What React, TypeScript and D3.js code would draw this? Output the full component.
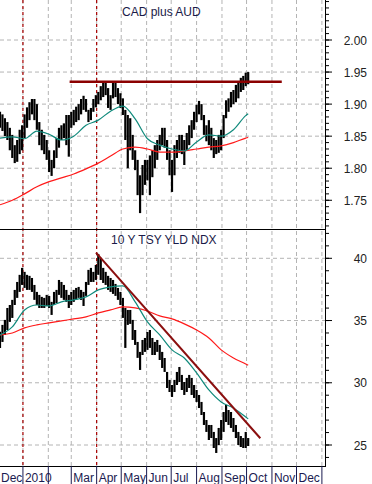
import React from 'react';
import * as d3 from 'd3';

// bars every 3 calendar days, Dec 4 2009 .. Oct 3 2010
const barDates = d3.timeDay.range(new Date(2009, 11, 4), new Date(2010, 9, 4), 3);

const cadHigh = [
  1.888, 1.884, 1.878, 1.872, 1.863, 1.852, 1.836, 1.844, 1.86, 1.867,
  1.884, 1.895, 1.903, 1.908, 1.908, 1.9, 1.872, 1.86, 1.852, 1.844,
  1.828, 1.813, 1.828, 1.847, 1.863, 1.867, 1.87, 1.883, 1.883, 1.888,
  1.891, 1.896, 1.9, 1.908, 1.913, 1.908, 1.891, 1.894, 1.908, 1.914,
  1.919, 1.928, 1.934, 1.934, 1.925, 1.914, 1.934, 1.934, 1.925, 1.917,
  1.909, 1.891, 1.883, 1.878, 1.852, 1.828, 1.813, 1.789, 1.805, 1.813,
  1.813, 1.82, 1.828, 1.836, 1.844, 1.852, 1.863, 1.863, 1.844, 1.828,
  1.813, 1.836, 1.844, 1.852, 1.852, 1.844, 1.855, 1.867, 1.875, 1.888,
  1.899, 1.905, 1.9, 1.883, 1.867, 1.875, 1.863, 1.847, 1.844, 1.852,
  1.86, 1.883, 1.906, 1.909, 1.919, 1.922, 1.93, 1.934, 1.941, 1.944,
  1.949, 1.95,
];
const cadLow = [
  1.863, 1.858, 1.85, 1.844, 1.828, 1.816, 1.808, 1.81, 1.822, 1.828,
  1.847, 1.863, 1.875, 1.884, 1.875, 1.86, 1.836, 1.828, 1.822, 1.813,
  1.794, 1.788, 1.8, 1.816, 1.832, 1.844, 1.847, 1.836, 1.818, 1.863,
  1.867, 1.872, 1.875, 1.884, 1.891, 1.888, 1.872, 1.875, 1.888, 1.895,
  1.9, 1.906, 1.911, 1.914, 1.894, 1.891, 1.909, 1.911, 1.9, 1.894,
  1.883, 1.844, 1.8, 1.828, 1.813, 1.797, 1.758, 1.73, 1.758, 1.774,
  1.781, 1.758, 1.786, 1.8, 1.813, 1.828, 1.836, 1.832, 1.813, 1.789,
  1.763, 1.789, 1.816, 1.824, 1.822, 1.805, 1.828, 1.836, 1.847, 1.86,
  1.872, 1.884, 1.875, 1.852, 1.842, 1.836, 1.828, 1.816, 1.822, 1.824,
  1.828, 1.847, 1.878, 1.888, 1.895, 1.9, 1.903, 1.909, 1.919, 1.922,
  1.928, 1.931,
];

const tsyHigh = [
  34.1, 34.65, 35.05, 36.01, 36.25, 36.66, 37.46, 38.1, 38.67, 39.23,
  38.91, 38.67, 38.59, 38.42, 37.86, 37.3, 37.06, 36.9, 36.82, 37.06,
  36.98, 36.5, 37.3, 37.46, 38.26, 38.1, 37.86, 37.46, 37.06, 37.3,
  37.46, 37.62, 37.7, 37.46, 37.3, 38.1, 39.07, 39.23, 38.91, 39.47,
  40.35, 40.03, 39.23, 38.91, 38.59, 38.42, 38.26, 37.94, 37.62, 37.3,
  36.82, 36.01, 35.85, 35.85, 35.05, 34.24, 33.28, 32.48, 33.44, 33.6,
  34.08, 34.24, 33.6, 33.28, 33.44, 33.04, 32.48, 31.99, 30.87, 30.23,
  29.82, 30.23, 30.87, 31.27, 30.63, 30.06, 30.39, 30.63, 30.39, 29.82,
  29.42, 29.02, 28.46, 27.65, 27.01, 26.61, 26.61, 26.05, 25.56, 26.37,
  27.01, 27.65, 28.22, 27.81, 27.65, 27.17, 26.61, 26.05, 25.72, 25.56,
  26.05, 25.56,
];
const tsyLow = [
  32.8, 33.28, 33.84, 34.24, 34.89, 35.21, 36.25, 36.82, 37.3, 37.86,
  37.62, 37.46, 37.46, 37.3, 36.66, 36.25, 36.01, 36.01, 36.01, 36.17,
  36.01, 35.45, 36.25, 36.41, 37.06, 36.82, 36.66, 36.5, 36.01, 36.25,
  36.5, 36.66, 36.82, 36.66, 36.17, 36.98, 37.86, 38.1, 38.1, 38.26,
  38.67, 38.26, 38.02, 37.86, 37.46, 37.3, 37.14, 36.98, 36.66, 36.25,
  35.21, 32.8, 34.65, 34.73, 33.44, 33.04, 32.0, 31.03, 32.23, 32.48,
  32.64, 32.8, 32.23, 32.23, 32.48, 31.83, 31.19, 30.87, 29.58, 29.26,
  28.86, 29.26, 29.82, 30.06, 29.42, 29.02, 29.26, 29.58, 29.02, 28.78,
  28.46, 27.97, 27.41, 26.61, 26.05, 25.4, 25.56, 24.76, 24.36, 25.0,
  25.4, 26.05, 26.85, 26.61, 26.37, 26.05, 25.56, 25.0, 24.84, 24.76,
  24.76, 24.92,
];

// moving averages, read at every 5th bar plus the last one
const maDates = barDates.filter((d, i) => i % 5 === 0 || i === barDates.length - 1);
const cadFast = [1.847, 1.849, 1.846, 1.858, 1.853, 1.844, 1.85, 1.867, 1.875, 1.889, 1.897,
  1.877, 1.846, 1.836, 1.83, 1.827, 1.841, 1.852, 1.85, 1.86, 1.882, 1.885];
const cadSlow = [1.743, 1.75, 1.76, 1.771, 1.779, 1.785, 1.791, 1.799, 1.808, 1.819, 1.83,
  1.833, 1.83, 1.825, 1.825, 1.827, 1.83, 1.833, 1.835, 1.84, 1.847, 1.848];
const tsyFast = [33.84, 34.49, 35.85, 36.25, 36.17, 36.5, 36.66, 36.9, 37.46, 37.7, 37.78,
  36.5, 34.89, 33.84, 32.64, 31.99, 30.79, 29.42, 28.46, 27.97, 27.25, 27.1];
const tsySlow = [33.84, 34.0, 34.41, 34.65, 34.81, 34.97, 35.13, 35.29, 35.61, 35.85, 36.09,
  36.01, 35.77, 35.37, 35.13, 34.73, 34.24, 33.6, 32.64, 31.99, 31.51, 31.4];

// drawn lines
const resistDates = [new Date(2010, 1, 27), new Date(2010, 10, 13)];
const resistValue = 1.935;
const trendDates = [new Date(2010, 3, 1), new Date(2010, 9, 17)];
const trendValues = [40.4, 25.6];
const markerDates = [new Date(2010, 0, 1), new Date(2010, 3, 1)];

const monthDates = d3.timeMonth.range(new Date(2009, 11, 1), new Date(2011, 0, 2));
const monthLabels = ['Dec', '2010', '', 'Mar', 'Apr', 'May', 'Jun', 'Jul', 'Aug', 'Sep', 'Oct', 'Nov', 'Dec'];

const cadTicks = [1.75, 1.8, 1.85, 1.9, 1.95, 2.0];
const tsyTicks = [25, 30, 35, 40];

const FONT = 'Arial, "Liberation Sans", sans-serif';

export default function App() {
  const width = 372;
  const height = 484;
  const plotRight = 326;
  const top = { y0: 0, y1: 229 };
  const bot = { y0: 229, y1: 466 };

  const x = d3
    .scaleTime()
    .domain([new Date(2009, 11, 4), new Date(2011, 0, 6)])
    .range([0, plotRight]);
  const yTop = d3.scaleLinear().domain([1.7052, 2.0624]).range([top.y1, top.y0]);
  const yBot = d3.scaleLinear().domain([23.313, 42.354]).range([bot.y1, bot.y0]);

  const cadMinor = d3.range(171, 207).map(v => v / 100);
  const tsyMinor = d3.range(24, 43);

  const maLine = (y: d3.ScaleLinear<number, number>, vals: number[]) =>
    d3
      .line<number>()
      .x((v, i) => x(maDates[i]))
      .y(v => y(v))
      .curve(d3.curveMonotoneX)(vals) || '';

  const bars = (y: d3.ScaleLinear<number, number>, hi: number[], lo: number[]) =>
    barDates.map((d, i) => (
      <line
        key={i}
        x1={x(d)}
        x2={x(d)}
        y1={y(hi[i])}
        y2={y(lo[i])}
        stroke="#000"
        strokeWidth={2.2}
      />
    ));

  const grid = '#b4b4b4';

  return (
    <div style={{ position: 'absolute', left: 0, top: 0 }}>
      <svg width={width} height={height} viewBox={`0 0 ${width} ${height}`} style={{ display: 'block', background: '#fff' }}>
        <defs>
          <clipPath id="clipTop">
            <rect x={0} y={top.y0} width={plotRight} height={top.y1 - top.y0} />
          </clipPath>
          <clipPath id="clipBot">
            <rect x={0} y={bot.y0} width={plotRight} height={bot.y1 - bot.y0} />
          </clipPath>
        </defs>

        {/* grid */}
        {monthDates.slice(1).map((d, i) => (
          <line key={'vg' + i} x1={x(d)} x2={x(d)} y1={0} y2={bot.y1} stroke={grid} strokeDasharray="4,3" />
        ))}
        {cadTicks.map(v => (
          <line key={'hg' + v} x1={0} x2={plotRight} y1={yTop(v)} y2={yTop(v)} stroke={grid} strokeDasharray="4,3" />
        ))}
        {tsyTicks.map(v => (
          <line key={'bg' + v} x1={0} x2={plotRight} y1={yBot(v)} y2={yBot(v)} stroke={grid} strokeDasharray="4,3" />
        ))}
        {markerDates.map((d, i) => (
          <line key={'mk' + i} x1={x(d)} x2={x(d)} y1={0} y2={bot.y1} stroke="#a80000" strokeWidth={1.2} strokeDasharray="3,3" />
        ))}

        {/* titles */}
        <text x={122} y={16} fontFamily={FONT} fontSize={12} fill="#1a1a48">CAD plus AUD</text>
        <text x={111} y={244} fontFamily={FONT} fontSize={12} fill="#1a1a48">10 Y TSY YLD NDX</text>

        {/* top panel */}
        <g clipPath="url(#clipTop)">
          {bars(yTop, cadHigh, cadLow)}
          <path d={maLine(yTop, cadSlow)} fill="none" stroke="#ff1a1a" strokeWidth={1.2} />
          <path d={maLine(yTop, cadFast)} fill="none" stroke="#108a7c" strokeWidth={1.2} />
          <line
            x1={x(resistDates[0])}
            x2={x(resistDates[1])}
            y1={yTop(resistValue)}
            y2={yTop(resistValue)}
            stroke="#8b0000"
            strokeWidth={2.4}
          />
        </g>

        {/* bottom panel */}
        <g clipPath="url(#clipBot)">
          {bars(yBot, tsyHigh, tsyLow)}
          <path d={maLine(yBot, tsySlow)} fill="none" stroke="#ff1a1a" strokeWidth={1.2} />
          <path d={maLine(yBot, tsyFast)} fill="none" stroke="#108a7c" strokeWidth={1.2} />
          <line
            x1={x(trendDates[0])}
            x2={x(trendDates[1])}
            y1={yBot(trendValues[0])}
            y2={yBot(trendValues[1])}
            stroke="#8b0f0f"
            strokeWidth={2}
            strokeLinecap="square"
          />
        </g>

        {/* frame */}
        <line x1={0} x2={plotRight} y1={top.y1 + 0.5} y2={top.y1 + 0.5} stroke="#000" />
        <line x1={0} x2={plotRight} y1={bot.y1 + 0.5} y2={bot.y1 + 0.5} stroke="#000" />
        <line x1={plotRight - 0.5} x2={plotRight - 0.5} y1={0} y2={bot.y1 + 1} stroke="#000" />

        {/* right axes */}
        {cadMinor.map(v => (
          <line key={'tm' + v} x1={plotRight} x2={plotRight + 3} y1={yTop(v)} y2={yTop(v)} stroke="#000" />
        ))}
        {cadTicks.map(v => (
          <g key={'tl' + v}>
            <line x1={plotRight} x2={plotRight + 6} y1={yTop(v)} y2={yTop(v)} stroke="#000" />
            <text x={367} y={yTop(v) + 4.5} textAnchor="end" fontFamily={FONT} fontSize={12} fill="#222">
              {d3.format('.2f')(v)}
            </text>
          </g>
        ))}
        {tsyMinor.map(v => (
          <line key={'bm' + v} x1={plotRight} x2={plotRight + 3} y1={yBot(v)} y2={yBot(v)} stroke="#000" />
        ))}
        {tsyTicks.map(v => (
          <g key={'bl' + v}>
            <line x1={plotRight} x2={plotRight + 6} y1={yBot(v)} y2={yBot(v)} stroke="#000" />
            <text x={367} y={yBot(v) + 4.5} textAnchor="end" fontFamily={FONT} fontSize={12} fill="#222">
              {v}
            </text>
          </g>
        ))}

        {/* month axis */}
        {monthDates.map((d, i) => (
          <text
            key={'ml' + i}
            x={Math.max(1, x(d) + 2)}
            y={481.5}
            fontFamily={FONT}
            fontSize={12}
            fill="#1a1a50"
          >
            {monthLabels[i]}
          </text>
        ))}
        {monthDates.map((d, i) => (
          <line key={'ms' + i} x1={x(d)} x2={x(d)} y1={bot.y1} y2={height} stroke="#1a1a50" />
        ))}
      </svg>
    </div>
  );
}
